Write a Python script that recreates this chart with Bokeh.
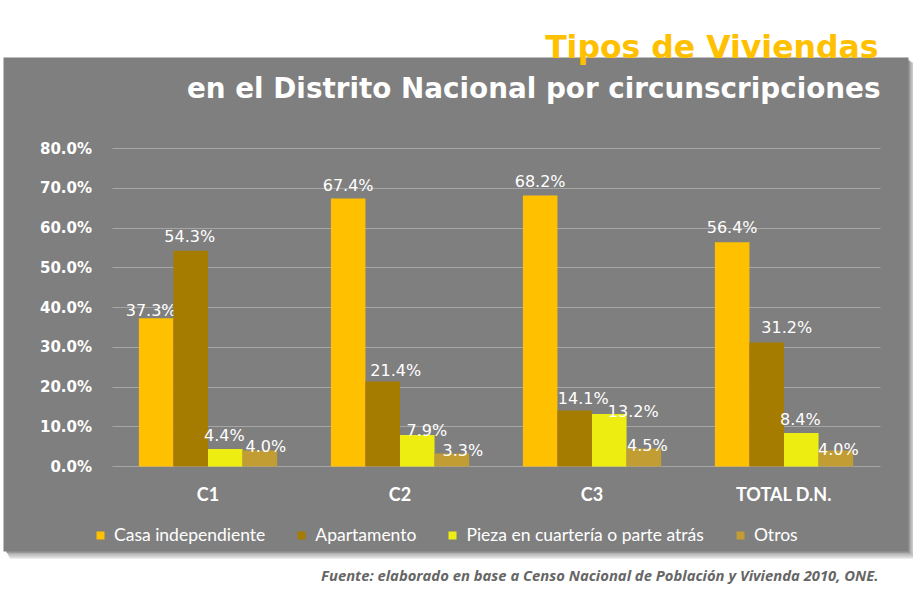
from bokeh.plotting import figure
from bokeh.models import (ColumnDataSource, Range1d, Label, Legend, LegendItem, BoxAnnotation,
                          PrintfTickFormatter, FixedTicker)
from bokeh.transform import dodge
from bokeh.embed import file_html
from bokeh.resources import INLINE
from bokeh.core.properties import value

# ---------------- data ----------------
title_text = "Tipos de Viviendas"
subtitle_text = "en el Distrito Nacional por circunscripciones"
source_text = "Fuente: elaborado en base a Censo Nacional de Población y Vivienda 2010, ONE."

categories = ["C1", "C2", "C3", "TOTAL D.N."]
series_names = ["Casa independiente", "Apartamento", "Pieza en cuartería o parte atrás", "Otros"]
casa = [37.3, 67.4, 68.2, 56.4]
apartamento = [54.3, 21.4, 14.1, 31.2]
pieza = [4.4, 7.9, 13.2, 8.4]
otros = [4.0, 3.3, 4.5, 4.0]
y_ticks = [0, 10, 20, 30, 40, 50, 60, 70, 80]

# ---------------- style ----------------
colors = ["#FFC000", "#A67C00", "#EDED12", "#C19D33"]
panel_gray = "#7F7F7F"
grid_gray = "#A6A6A6"
offsets = [-0.27, -0.09, 0.09, 0.27]
bar_width = 0.18
# manual nudges of the data labels (pixels), per series then per category
label_dx = [[-5, 0, 0, 0], [-1, 13, 8.5, 20], [-1, 9.5, 24, -1], [6, 11, 3.5, 2.5]]
label_gap = [[8, 13, 14, 14.5], [14, 11, 12, 15], [13.5, 4.6, 3, 14], [4, 3, 3, 1]]

W, H = 913, 584
X_PX = 192.0          # pixels per category
Y_PX = 3.975          # pixels per percentage point
PLOT_LEFT = 111.5     # canvas x of the left edge of the plotting area
ZERO_Y = 466.0        # canvas y of the 0 % line
PANEL = dict(left=3, right=908, top=57, bottom=551)

x_lo = -0.5 - PLOT_LEFT / X_PX
x_hi = x_lo + W / X_PX
y_hi = ZERO_Y / Y_PX
y_lo = y_hi - H / Y_PX

p = figure(width=W, height=H, output_backend="svg", toolbar_location=None,
           x_range=Range1d(x_lo, x_hi), y_range=Range1d(y_lo, y_hi),
           min_border=0, min_border_left=0, min_border_right=0,
           min_border_top=0, min_border_bottom=0)
p.background_fill_color = "white"
p.border_fill_color = "white"
p.outline_line_color = None
p.grid.visible = False


def cy(py):   # canvas y -> data y (layout helper for decorations)
    return y_hi - py / Y_PX


def cx(px):   # canvas x -> data x (layout helper for decorations)
    return x_lo + px / X_PX


L, R, T, B = PANEL["left"], PANEL["right"], PANEL["top"], PANEL["bottom"]
boxes = [
    # soft shadow on the right and bottom (outer to inner), then the grey panel
    (dict(left=cx(L + 6), right=cx(R + 7), top=cy(T + 6), bottom=cy(B + 7)), "#DCDCDC"),
    (dict(left=cx(L + 5), right=cx(R + 5), top=cy(T + 5), bottom=cy(B + 5)), "#C8C8C8"),
    (dict(left=cx(L + 4), right=cx(R + 3), top=cy(T + 4), bottom=cy(B + 3)), "#B0B0B0"),
    (dict(left=cx(L + 3), right=cx(R + 1.5), top=cy(T + 3), bottom=cy(B + 1.5)), "#989898"),
    (dict(left=cx(L), right=cx(R), top=cy(T), bottom=cy(B)), panel_gray),
]
for geom, col in boxes:
    p.add_layout(BoxAnnotation(**geom, fill_color=col, fill_alpha=1.0, line_color=None,
                               level="image"))

# y axis: labels + long inward ticks acting as gridlines
yax = p.yaxis[0]
yax.fixed_location = -0.5
yax.level = "underlay"
yax.ticker = FixedTicker(ticks=y_ticks)
yax.formatter = PrintfTickFormatter(format="%.1f%%")
yax.axis_line_color = None
yax.minor_tick_line_color = None
yax.major_tick_out = 0
yax.major_tick_in = int(4 * X_PX)
yax.major_tick_line_color = grid_gray
yax.major_tick_line_width = 1
yax.major_label_standoff = 20
yax.major_label_text_font = "DejaVu Sans"
yax.major_label_text_font_style = "bold"
yax.major_label_text_font_size = "15px"
yax.major_label_text_color = "white"

# x axis: category names
xpos = [i for i in range(len(categories))]
xax = p.xaxis[0]
xax.fixed_location = 0
xax.ticker = FixedTicker(ticks=xpos)
xax.major_label_overrides = {i: c for i, c in zip(xpos, categories)}
xax.axis_line_color = None
xax.major_tick_line_color = None
xax.minor_tick_line_color = None
xax.major_tick_out = 0
xax.major_tick_in = 0
xax.major_label_standoff = 16
xax.major_label_text_font = "Lato"
xax.major_label_text_font_style = "bold"
xax.major_label_text_font_size = "18px"
xax.major_label_text_color = "white"

src = ColumnDataSource(dict(x=xpos, casa=casa, apartamento=apartamento, pieza=pieza, otros=otros))
fields = ["casa", "apartamento", "pieza", "otros"]
series_values = [casa, apartamento, pieza, otros]

items = []
for i, f in enumerate(fields):
    r = p.vbar(x=dodge("x", offsets[i]), top=f, width=bar_width,
               source=src, fill_color=colors[i], line_color=None)
    items.append(LegendItem(label=series_names[i], renderers=[r]))
    lsrc = ColumnDataSource(dict(
        x=xpos,
        val=series_values[i],
        txt=[f"{v:.1f}%" for v in series_values[i]],
        dx=label_dx[i],
        dy=[-g for g in label_gap[i]],
    ))
    p.text(x=dodge("x", offsets[i]), y="val", text="txt", source=lsrc,
           x_offset="dx", y_offset="dy", text_align="center", text_baseline="alphabetic",
           text_font=value("DejaVu Sans"), text_font_size="16px", text_color="white")

# legend: location is its bottom-left corner, measured from the plot's bottom-left
legend = Legend(items=items, orientation="horizontal", location=(95, H - 545),
                glyph_width=10, glyph_height=10, label_standoff=9, spacing=31,
                padding=0, margin=0, background_fill_alpha=0, border_line_color=None,
                label_text_font="Lato", label_text_font_size="17.5px",
                label_text_color="white", label_height=20)
p.add_layout(legend)

p.add_layout(Label(x=878, y=H - 46, x_units="screen", y_units="screen", text=title_text,
                   text_align="right", text_baseline="alphabetic",
                   text_font="DejaVu Sans", text_font_style="bold", text_font_size="31.5px",
                   text_color="#FFC000"))
p.add_layout(Label(x=880, y=H - 88, x_units="screen", y_units="screen", text=subtitle_text,
                   text_align="right", text_baseline="alphabetic",
                   text_font="DejaVu Sans", text_font_style="bold", text_font_size="27.8px",
                   text_color="white"))
p.add_layout(Label(x=878, y=H - 574, x_units="screen", y_units="screen", text=source_text,
                   text_align="right", text_baseline="alphabetic",
                   text_font="Open Sans", text_font_style="bold italic",
                   text_font_size="14.8px", text_color="#666666"))

open("out.html", "w").write(file_html(p, INLINE))
